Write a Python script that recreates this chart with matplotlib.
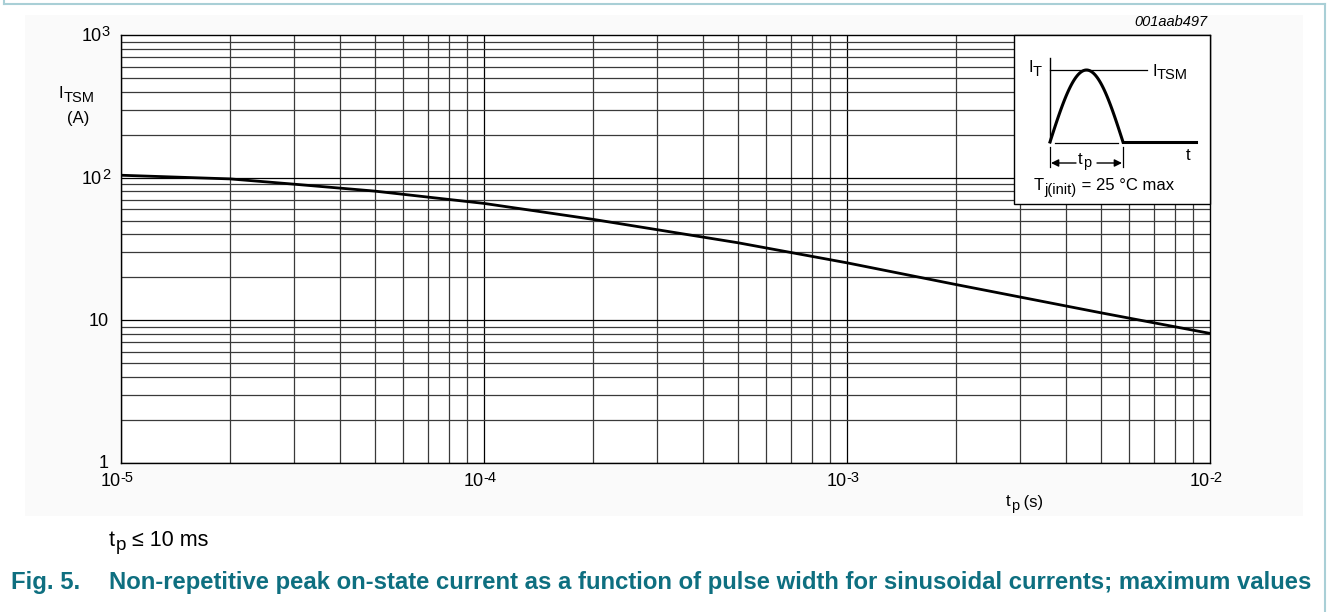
import numpy as np
import matplotlib
matplotlib.use("Agg")
from matplotlib import pyplot as plt
from matplotlib.patches import Rectangle, FancyArrowPatch
from matplotlib.text import Annotation

plt.rcParams["font.family"] = ["Liberation Sans", "DejaVu Sans"]

# curve
t_p = [1e-5, 2e-5, 3e-5, 5e-5, 1e-4, 2e-4, 5e-4, 1e-3, 2e-3, 5e-3, 1e-2]
i_tsm = [104, 98, 90, 80.5, 66, 51, 35, 25.3, 17.8, 11.3, 8.1]

x_ticks = [1e-5, 1e-4, 1e-3, 1e-2]
x_exps = ["-5", "-4", "-3", "-2"]
y_ticks = [1, 10, 100, 1000]
y_exps = ["", "", "2", "3"]
y_bases = ["1", "10", "10", "10"]

W, H = 1328, 612
PT = 0.72  # points per pixel at 100 dpi
fig = plt.figure(figsize=(W / 100, H / 100), dpi=100)


def fx(x):
    return np.asarray(x) / W


def fy(y):
    return 1 - np.asarray(y) / H


def sub_text(x, y, base, sub, rest="", size=12, subsize=10.5, drop=2.8, z=6):
    # base letter, a near full size subscript, then the rest of the string
    t = fig.text(fx(x), fy(y), base, fontsize=size, ha="left", va="center", zorder=z)
    s = Annotation(sub, xy=(1, 0.5), xycoords=t, xytext=(0.3, -drop),
                   textcoords="offset points", fontsize=subsize, ha="left", va="center", zorder=z)
    fig.add_artist(s)
    if rest:
        r = Annotation(rest, xy=(1, 0.5), xycoords=s, xytext=(0, drop),
                       textcoords="offset points", fontsize=size, ha="left", va="center", zorder=z)
        fig.add_artist(r)


# outer frame and light panel
fig.patches.append(Rectangle((fx(25), fy(516)), 1278 / W, 501 / H,
                             transform=fig.transFigure, facecolor="#fafafa",
                             edgecolor="none", zorder=-1))
for xs, ys in [([4, 4], [0, 4]), ([4, 1325], [4, 4]), ([1325, 1325], [4, 612])]:
    fig.add_artist(plt.Line2D(fx(xs), fy(ys), color="#a9cfd6", lw=1.5))

ax = fig.add_axes([121 / W, 1 - 463 / H, 1089 / W, 428 / H])
ax.set_facecolor("white")
ax.set_xscale("log")
ax.set_yscale("log")
ax.set_xlim(1e-5, 1e-2)
ax.set_ylim(1, 1000)

# grid
for dec in [1e-5, 1e-4, 1e-3]:
    for m in range(1, 10):
        ax.axvline(dec * m, color="black" if m == 1 else "#3a3a3a", lw=0.9, zorder=1)
for dec in [1, 10, 100]:
    for m in range(1, 10):
        ax.axhline(dec * m, color="black" if m == 1 else "#3a3a3a", lw=0.9, zorder=1)
for s in ax.spines.values():
    s.set_linewidth(1.0)

ax.plot(t_p, i_tsm, color="black", lw=2.0, zorder=3)

ax.set_xticks([])
ax.set_yticks([])
ax.minorticks_off()

# tick labels with a hyphen and large superscripts, as in the datasheet
xtr = ax.get_xaxis_transform()
for xt, e in zip(x_ticks, x_exps):
    b = ax.annotate("10", xy=(xt, 0), xycoords=xtr, xytext=(-0.7 * PT, -18 * PT),
                    textcoords="offset points", fontsize=13, ha="right", va="center",
                    annotation_clip=False)
    ax.annotate(e, xy=(1, 0.5), xycoords=b, xytext=(0.3, 3.5 * PT), textcoords="offset points",
                fontsize=10.5, ha="left", va="center", annotation_clip=False)
ytr = ax.get_yaxis_transform()
for yt, b_txt, e in zip(y_ticks, y_bases, y_exps):
    if e:
        s = ax.annotate(e, xy=(0, yt), xycoords=ytr, xytext=(-11 * PT, 2.5 * PT),
                        textcoords="offset points", fontsize=10.5, ha="right", va="center",
                        annotation_clip=False)
        ax.annotate(b_txt, xy=(0, 0.5), xycoords=s, xytext=(-0.3, -4 * PT),
                    textcoords="offset points", fontsize=13, ha="right", va="center",
                    annotation_clip=False)
    else:
        ax.annotate(b_txt, xy=(0, yt), xycoords=ytr, xytext=(-12 * PT, -1 * PT),
                    textcoords="offset points", fontsize=13, ha="right", va="center",
                    annotation_clip=False)

sub_text(59, 94, "I", "TSM")
fig.text(fx(78), fy(118), "(A)", fontsize=12, ha="center", va="center")
sub_text(1006, 502, "t", "p", " (s)")
fig.text(fx(1207), fy(22), "001aab497", fontsize=10.5, style="italic", ha="right", va="center")

# inset with pulse shape
fig.patches.append(Rectangle((fx(1014), fy(204)), 196 / W, 169 / H,
                             transform=fig.transFigure, facecolor="white",
                             edgecolor="black", lw=1.0, zorder=4))
fig.add_artist(plt.Line2D(fx([1050, 1050]), fy([58, 142]), color="black", lw=1.0, zorder=5))
fig.add_artist(plt.Line2D(fx([1050, 1147]), fy([70, 70]), color="black", lw=0.9, zorder=5))
ph = np.linspace(0, np.pi, 60)
px = 1050 + (1123 - 1050) * ph / np.pi
py = 142 - (142 - 70) * np.sin(ph)
fig.add_artist(plt.Line2D(fx(px), fy(py), color="black", lw=2.2, zorder=5))
fig.add_artist(plt.Line2D(fx([1123, 1196]), fy([142, 142]), color="black", lw=2.2, zorder=5))
for xv in [1050, 1123]:
    fig.add_artist(plt.Line2D(fx([xv, xv]), fy([147, 167]), color="black", lw=0.9, zorder=5))
fig.add_artist(plt.Line2D(fx([1055, 1118]), fy([143, 143]), color="black", lw=0.9, zorder=5))
for a, b in [(1076, 1051), (1097, 1122)]:
    fig.patches.append(FancyArrowPatch((fx(a), fy(163)), (fx(b), fy(163)),
                                       transform=fig.transFigure, arrowstyle="-|>",
                                       mutation_scale=11, color="black", lw=1.0,
                                       shrinkA=0, shrinkB=0, zorder=6))
sub_text(1078, 159, "t", "p")
sub_text(1028, 68, "I", "T")
sub_text(1152, 71, "I", "TSM")
fig.text(fx(1188), fy(156), "t", fontsize=12, ha="center", va="center", zorder=6)
sub_text(1034, 186, "T", "j(init)", " = 25 °C max")

sub_text(109, 540, "t", "p", " ≤ 10 ms", size=15.5, subsize=13.5, drop=3.8)
fig.text(fx(11), fy(583), "Fig. 5.", fontsize=17.2, weight="bold", color="#0e6f80",
         ha="left", va="center")
fig.text(fx(109), fy(583),
         "Non-repetitive peak on-state current as a function of pulse width for sinusoidal currents; maximum values",
         fontsize=17.2, weight="bold", color="#0e6f80", ha="left", va="center")

fig.savefig("out.png", dpi=100)
